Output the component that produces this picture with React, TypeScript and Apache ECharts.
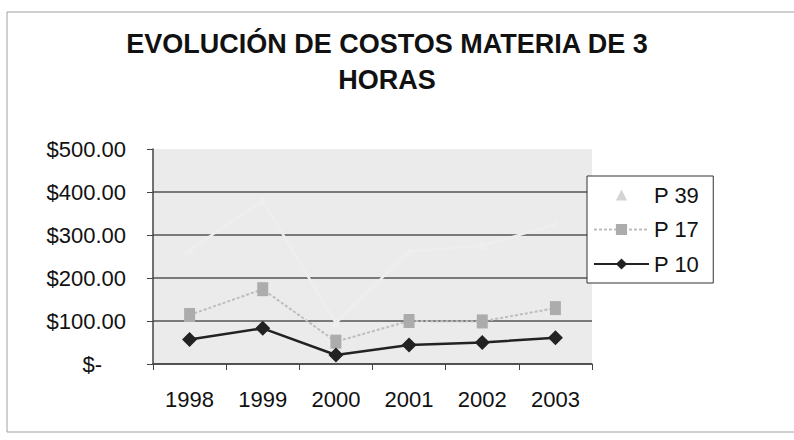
import React, { useEffect, useRef } from "react";
import * as echarts from "echarts";

const TITLE = "EVOLUCIÓN DE COSTOS MATERIA DE 3\nHORAS";
const years = ["1998", "1999", "2000", "2001", "2002", "2003"];
const p39 = [265, 380, 95, 262, 275, 325];
const p17 = [114, 174, 52, 100, 99, 130];
const p10 = [57, 83, 21, 44, 50, 61];
const seriesNames = ["P 39", "P 17", "P 10"];

const FONT = "'Liberation Sans', Arial, Helvetica, sans-serif";

export default function App() {
  const ref = useRef<HTMLDivElement>(null);
  useEffect(() => {
    if (!ref.current) return;
    const chart = echarts.init(ref.current, undefined, { renderer: "svg" });
    chart.setOption({
      animation: false,
      backgroundColor: "#ffffff",
      textStyle: { fontFamily: FONT },
      title: {
        text: TITLE,
        left: 382,
        top: 21,
        textAlign: "center",
        textStyle: {
          fontFamily: FONT,
          fontSize: 27,
          fontWeight: "bold",
          color: "#111",
          lineHeight: 36,
        },
      },
      graphic: [
        {
          type: "rect",
          shape: { x: 7, y: 12, width: 800, height: 420 },
          style: { fill: "none", stroke: "#a0a0a0", lineWidth: 1 },
          silent: true,
          z: -10,
        },
      ],
      legend: {
        orient: "vertical",
        left: 587,
        top: 176,
        padding: [8, 14, 8, 6],
        borderColor: "#333",
        borderWidth: 1,
        backgroundColor: "#fff",
        itemWidth: 55,
        itemHeight: 14,
        itemGap: 12.5,
        itemTextGap: 6,
        textStyle: { fontFamily: FONT, fontSize: 22, color: "#111", lineHeight: 22 },
        data: [
          {
            name: seriesNames[0],
            itemStyle: { color: "#d4d4d4" },
            lineStyle: { color: "rgba(0,0,0,0)" },
          },
          { name: seriesNames[1] },
          { name: seriesNames[2] },
        ],
      },
      grid: {
        left: 153,
        right: 202,
        top: 149,
        bottom: 76,
        show: true,
        backgroundColor: "#ebebeb",
        borderWidth: 0,
      },
      xAxis: {
        type: "category",
        data: years,
        boundaryGap: true,
        axisLine: { show: true, lineStyle: { color: "#444", width: 1.5 } },
        axisTick: { show: true, length: 6, alignWithLabel: false, lineStyle: { color: "#444" } },
        axisLabel: { fontFamily: FONT, fontSize: 22, color: "#111", margin: 24 },
        splitLine: { show: false },
      },
      yAxis: {
        type: "value",
        min: 0,
        max: 500,
        interval: 100,
        axisLine: { show: true, lineStyle: { color: "#444", width: 1.5 } },
        axisTick: { show: true, length: 6, lineStyle: { color: "#444" } },
        axisLabel: {
          fontFamily: FONT,
          fontSize: 22,
          color: "#111",
          margin: 27,
          formatter: (v: number) => (v === 0 ? "{z|$-}" : "$" + v.toFixed(2)),
          rich: {
            z: { fontFamily: FONT, fontSize: 22, color: "#111", padding: [0, 24, 0, 0] },
          },
        },
        splitLine: {
          show: true,
          lineStyle: {
            color: ["#555", "#555", "#555", "#555", "#555", "rgba(0,0,0,0)"],
            width: 1.5,
          },
        },
      },
      series: [
        {
          name: seriesNames[0],
          type: "line",
          data: p39,
          symbol: "triangle",
          symbolSize: 9,
          lineStyle: { color: "#eeeeee", width: 2.5 },
          itemStyle: { color: "#eeeeee" },
        },
        {
          name: seriesNames[1],
          type: "line",
          data: p17,
          symbol: "rect",
          symbolSize: [11, 14],
          lineStyle: { color: "#bdbdbd", width: 2, type: [3, 2] },
          itemStyle: { color: "#acacac" },
        },
        {
          name: seriesNames[2],
          type: "line",
          data: p10,
          symbol: "diamond",
          symbolSize: 15,
          lineStyle: { color: "#222", width: 2.5 },
          itemStyle: { color: "#222" },
        },
      ],
    });
    return () => chart.dispose();
  }, []);
  return (
    <div
      ref={ref}
      style={{ position: "fixed", left: 0, top: 0, width: 794, height: 440 }}
    />
  );
}
